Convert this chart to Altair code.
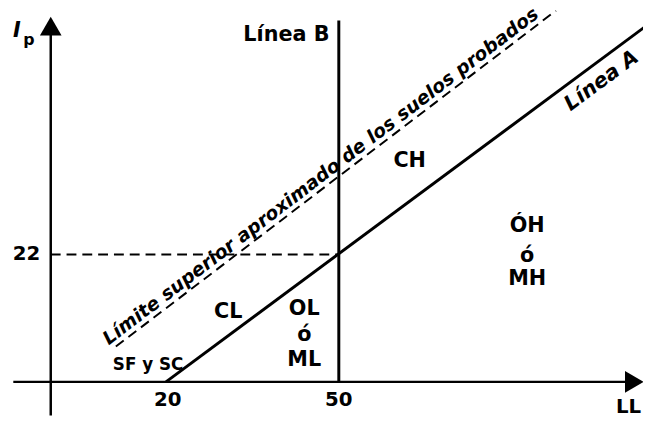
import altair as alt
import pandas as pd

# ---- chart values (LL = límite líquido, Ip = índice plástico) ----
x_axis_ll = [-6.5, 101]
x_axis_ip = [0, 0]
y_axis_ll = [0, 0]
y_axis_ip = [-5.8, 61]

linea_a_ll = [20, 103]
linea_a_ip = [0, 61.2]

linea_b_ll = [50, 50]
linea_b_ip = [0, 62.4]

limite_ll = [11.3, 87.7]
limite_ip = [6.1, 64.1]

ref22_ll = [0, 50]
ref22_ip = [22, 22]

zone_labels = ["CH", "CL", "OL", "ó", "ML", "ÓH", "ó", "MH"]
zone_ll = [62.3, 30.8, 44.0, 44.0, 44.0, 82.7, 82.7, 82.7]
zone_ip = [38.2, 12.1, 12.6, 8.0, 3.75, 26.9, 21.7, 17.7]

tick_labels = ["20", "50", "22", "LL"]
tick_ll = [20.3, 50.0, -4.2, 100.3]
tick_ip = [-3.2, -3.1, 22.0, -4.4]

X_DOM = [-7.42, 102.8]
Y_DOM = [-6.31, 64.1]
FONT = "DejaVu Sans"

xs = alt.Scale(domain=X_DOM, nice=False, zero=False)
ys = alt.Scale(domain=Y_DOM, nice=False, zero=False)


def seg(ll, ip):
    return pd.DataFrame({"LL": ll, "Ip": ip, "o": list(range(len(ll)))})


def line_layer(df, width, dash=None):
    kw = dict(color="black", strokeWidth=width, clip=True)
    if dash:
        kw["strokeDash"] = dash
    return alt.Chart(df).mark_line(**kw).encode(
        x=alt.X("LL:Q", scale=xs, axis=None),
        y=alt.Y("Ip:Q", scale=ys, axis=None),
        order="o:Q",
    )


x_axis = line_layer(seg(x_axis_ll, x_axis_ip), 2.5)
y_axis = line_layer(seg(y_axis_ll, y_axis_ip), 2.5)
lineA = line_layer(seg(linea_a_ll, linea_a_ip), 3)
lineB = line_layer(seg(linea_b_ll, linea_b_ip), 3)
limite = line_layer(seg(limite_ll, limite_ip), 2, [10, 6])
ref22 = line_layer(seg(ref22_ll, ref22_ip), 2, [10, 6])

arrows = pd.DataFrame({"LL": [0, 101.3], "Ip": [61.4, 0],
                       "shape": ["triangle-up", "triangle-right"]})
arrow_layer = alt.Chart(arrows).mark_point(filled=True, color="black", size=480, opacity=1).encode(
    x=alt.X("LL:Q", scale=xs, axis=None),
    y=alt.Y("Ip:Q", scale=ys, axis=None),
    shape=alt.Shape("shape:N", scale=None, legend=None),
)


def text_layer(labels, ll, ip, size, **kw):
    df = pd.DataFrame({"t": labels, "LL": ll, "Ip": ip})
    return alt.Chart(df).mark_text(font=FONT, fontWeight="bold", fontSize=size,
                                   color="black", **kw).encode(
        x=alt.X("LL:Q", scale=xs, axis=None),
        y=alt.Y("Ip:Q", scale=ys, axis=None),
        text="t:N",
    )


# point on Línea A where its label is hung below the line
a_lab_ll = 93.8
a_lab_ip = linea_a_ip[0] + (a_lab_ll - linea_a_ll[0]) * (linea_a_ip[1] - linea_a_ip[0]) / (linea_a_ll[1] - linea_a_ll[0])

zones = text_layer(zone_labels, zone_ll, zone_ip, 21, align="center", baseline="middle")
sfsc = text_layer(["SF y SC"], [16.9], [2.9], 17, align="center", baseline="middle")
ticks = text_layer(tick_labels, tick_ll, tick_ip, 20, align="center", baseline="middle")
ip_i = text_layer(["I"], [-5.9], [60.5], 21, align="center", baseline="middle", fontStyle="italic")
ip_p = text_layer(["p"], [-3.8], [59.0], 16, align="center", baseline="middle")
lin_b = text_layer(["Línea B"], [40.9], [59.9], 21, align="center", baseline="middle")
lin_a = text_layer(["Línea A"], [a_lab_ll], [a_lab_ip], 21, align="center", baseline="top",
                   angle=323.4, fontStyle="italic", dy=7)
lim_t = text_layer(["Límite superior aproximado de los suelos probados"], [48.0], [34.0], 19,
                   align="center", baseline="alphabetic", angle=322.65, fontStyle="italic", dy=-5)

chart = alt.layer(
    x_axis, y_axis, ref22, limite, lineA, lineB, arrow_layer,
    zones, sfsc, ticks, ip_i, ip_p, lin_b, lin_a, lim_t,
).properties(
    width=643, height=413,
    autosize=alt.AutoSizeParams(type="none"),
    padding={"left": 0, "top": 0, "right": 0, "bottom": 0},
    background="white",
).configure_view(strokeWidth=0)

chart.save("out.html", embed_options={"renderer": "svg", "actions": False})
